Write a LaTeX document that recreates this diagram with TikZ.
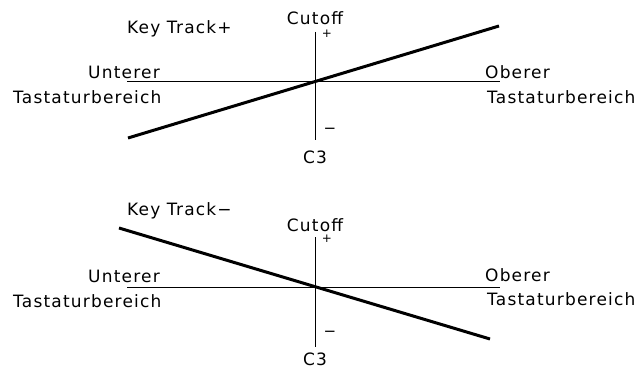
\documentclass[tikz,border=0pt]{standalone}
\usepackage{fontspec}
\setmainfont{DejaVu Sans}[LetterSpace=7]
\begin{document}
\begin{tikzpicture}[x=1pt,y=-1pt,
  lbl/.style={inner sep=0pt,font=\fontsize{17}{18}\selectfont},
  sgn/.style={inner sep=0pt,font=\fontsize{12}{12}\selectfont},
  neg/.style={inner sep=0pt,font=\fontsize{15}{15}\selectfont},
  axis/.style={line width=1pt,black},
  track/.style={line width=3pt,black}]
\useasboundingbox (0,0) rectangle (636,369);
% ---------- top diagram ----------
\coordinate (hL1) at (127,81);
\coordinate (hR1) at (500,81);
\coordinate (vT1) at (315,32);
\coordinate (vB1) at (315,140);
\coordinate (tS1) at (128,138);
\coordinate (tE1) at (499,26);
\draw[axis] (hL1) -- (hR1);
\draw[axis] (vT1) -- (vB1);
\draw[track] (tS1) -- (tE1);
\node[lbl,anchor=base west] (kt1) at (127,34) {Key Track+};
\node[lbl,anchor=base] (cut1) at (315,25) {Cutoff};
\node[sgn] (p1) at (327,34) {+};
\node[neg] (m1) at (330,131) {−};
\node[lbl,anchor=base] (c31) at (315,163) {C3};
\node[lbl,anchor=base west] (u1) at (88,78) {Unterer};
\node[lbl,anchor=base west] (tl1) at (13,103) {Tastaturbereich};
\node[lbl,anchor=base west] (o1) at (485,78) {Oberer};
\node[lbl,anchor=base west] (tr1) at (487,103) {Tastaturbereich};
% ---------- bottom diagram ----------
\coordinate (hL2) at (127,287);
\coordinate (hR2) at (500,287);
\coordinate (vT2) at (315,237);
\coordinate (vB2) at (315,347);
\coordinate (tS2) at (119,228);
\coordinate (tE2) at (490,339);
\draw[axis] (hL2) -- (hR2);
\draw[axis] (vT2) -- (vB2);
\draw[track] (tS2) -- (tE2);
\node[lbl,anchor=base west] (kt2) at (127,215) {Key Track−};
\node[lbl,anchor=base] (cut2) at (315,231) {Cutoff};
\node[sgn] (p2) at (327,239) {+};
\node[neg] (m2) at (330,334) {−};
\node[lbl,anchor=base] (c32) at (315,365) {C3};
\node[lbl,anchor=base west] (u2) at (88,282) {Unterer};
\node[lbl,anchor=base west] (tl2) at (13,307) {Tastaturbereich};
\node[lbl,anchor=base west] (o2) at (485,281) {Oberer};
\node[lbl,anchor=base west] (tr2) at (487,305) {Tastaturbereich};
\end{tikzpicture}
\end{document}
